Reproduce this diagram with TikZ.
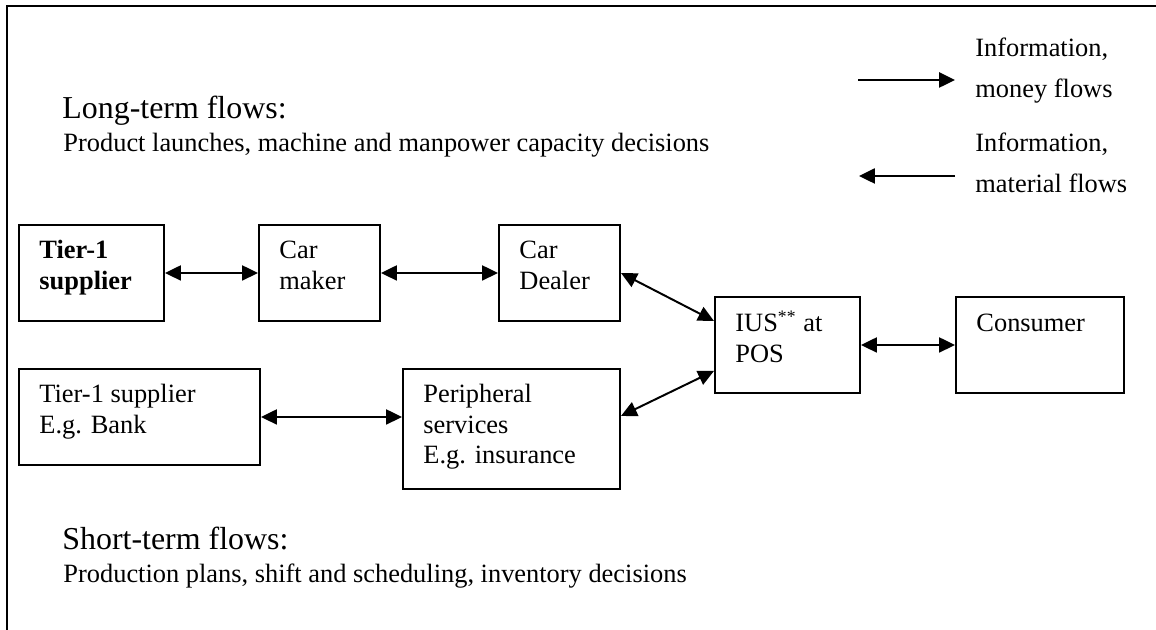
\documentclass[tikz,border=0pt]{standalone}
\usepackage{fontspec}
\setmainfont{Liberation Serif}
\usetikzlibrary{arrows.meta}
\newcommand\mylines[1]{\begin{tabular}[t]{@{}l@{}}#1\end{tabular}}
\begin{document}
\begin{tikzpicture}[x=0.4545pt,y=-0.4545pt,
  box/.style={draw, line width=0.9pt, inner sep=0pt, anchor=north west},
  txt/.style={inner sep=0pt, anchor=base west, font=\fontsize{12}{13.8}\selectfont},
  legtxt/.style={inner sep=0pt, anchor=base west, font=\fontsize{12}{18.2}\selectfont},
  head/.style={inner sep=0pt, anchor=base west, font=\fontsize{14.5}{17}\selectfont},
  flow/.style={line width=0.9pt, {Triangle[length=7.2pt,width=6.8pt]}-{Triangle[length=7.2pt,width=6.8pt]}},
  single/.style={line width=1pt, -{Triangle[length=7.2pt,width=6.8pt]}}]
\useasboundingbox (0,0) rectangle (1156,630);
% frame
\coordinate (fb) at (7,630);
\coordinate (fc) at (7,6);
\coordinate (fr) at (1156,6);
\draw[line width=1.1pt] (fb) -- (fc) -- (fr);
% headings
\node[head] (lt) at (62,119) {Long-term flows:};
\node[txt] (lts) at (63,152) {Product launches, machine and manpower capacity decisions};
\node[head] (st) at (62,550) {Short-term flows:};
\node[txt] (sts) at (63,583) {Production plans, shift and scheduling, inventory decisions};
% legend
\coordinate (la1) at (858,80);
\coordinate (la2) at (955,80);
\coordinate (lb1) at (955,176);
\coordinate (lb2) at (859,176);
\draw[single] (la1) -- (la2);
\draw[single] (lb1) -- (lb2);
\node[legtxt] (lg1) at (975,57) {\mylines{Information,\\money flows}};
\node[legtxt,font=\fontsize{12}{18.6}\selectfont] (lg2) at (975,152) {\mylines{Information,\\material flows}};
% boxes
\node[box, minimum width=145*0.4545pt, minimum height=96*0.4545pt] (t1) at (18,224) {};
\node[box, minimum width=121*0.4545pt, minimum height=96*0.4545pt] (cm) at (258,224) {};
\node[box, minimum width=121*0.4545pt, minimum height=96*0.4545pt] (cd) at (498,224) {};
\node[box, minimum width=241*0.4545pt, minimum height=96*0.4545pt] (bk) at (18,368) {};
\node[box, minimum width=217*0.4545pt, minimum height=120*0.4545pt] (ps) at (402,368) {};
\node[box, minimum width=145*0.4545pt, minimum height=96*0.4545pt] (ius) at (714,296) {};
\node[box, minimum width=168*0.4545pt, minimum height=96*0.4545pt] (con) at (955,296) {};
% box texts
\node[txt] (t1t) at (39,259) {\mylines{\bfseries Tier-1\\\bfseries supplier}};
\node[txt] (cmt) at (279,259) {\mylines{Car\\maker}};
\node[txt] (cdt) at (519,259) {\mylines{Car\\Dealer}};
\node[txt] (bkt) at (39,403) {\mylines{Tier-1 supplier\\E.g. Bank}};
\node[txt] (pst) at (423,403) {\mylines{Peripheral\\services\\E.g. insurance}};
\node[txt] (iust) at (735,332) {\mylines{IUS\textsuperscript{**} at\\POS}};
\node[txt] (cont) at (976,332) {Consumer};
% connectors
\draw[flow] (t1.east) -- (cm.west);
\draw[flow] (cm.east) -- (cd.west);
\draw[flow] (bk.east) -- (bk.east -| ps.west);
\draw[flow] (cd.east) -- ([yshift=10.9pt]ius.west);
\draw[flow] ([yshift=5.9pt]ps.east) -- ([yshift=-11.8pt]ius.west);
\draw[flow] (ius.east) -- (con.west);
\end{tikzpicture}
\end{document}
